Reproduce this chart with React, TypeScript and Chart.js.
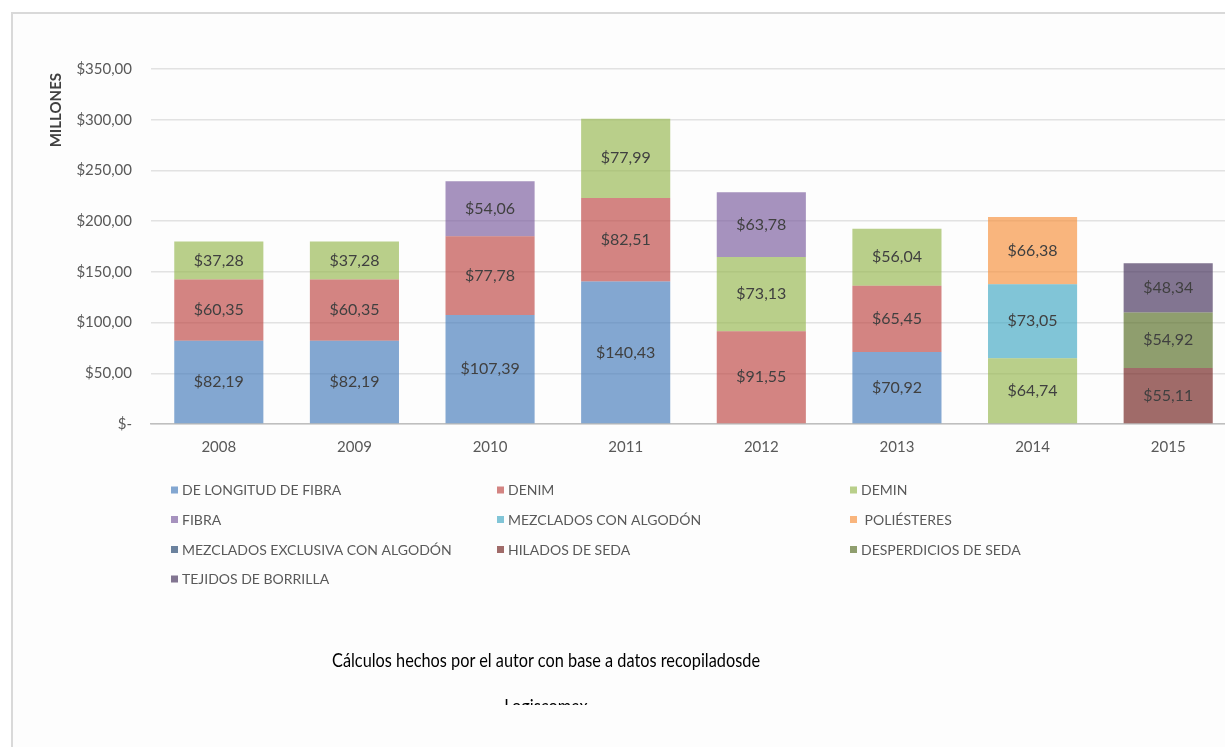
import React, { useEffect, useRef } from "react";
import { Chart, registerables } from "chart.js";

Chart.register(...registerables);

// ---------- DATA ----------
const years = ["2008", "2009", "2010", "2011", "2012", "2013", "2014", "2015"];

const seriesNames = [
  "DE LONGITUD DE FIBRA",
  "DENIM",
  "DEMIN",
  "FIBRA",
  "MEZCLADOS CON ALGODÓN",
  " POLIÉSTERES",
  "MEZCLADOS EXCLUSIVA CON ALGODÓN",
  "HILADOS DE SEDA",
  "DESPERDICIOS DE SEDA",
  "TEJIDOS DE BORRILLA",
];

const deLongitudDeFibra = [82.19, 82.19, 107.39, 140.43, null, 70.92, null, null];
const denim = [60.35, 60.35, 77.78, 82.51, 91.55, 65.45, null, null];
const demin = [37.28, 37.28, null, 77.99, 73.13, 56.04, 64.74, null];
const fibra = [null, null, 54.06, null, 63.78, null, null, null];
const mezcladosConAlgodon = [null, null, null, null, null, null, 73.05, null];
const poliesteres = [null, null, null, null, null, null, 66.38, null];
const mezcladosExclusiva = [null, null, null, null, null, null, null, null];
const hiladosDeSeda = [null, null, null, null, null, null, null, 55.11];
const desperdiciosDeSeda = [null, null, null, null, null, null, null, 54.92];
const tejidosDeBorrilla = [null, null, null, null, null, null, null, 48.34];

const seriesValues = [
  deLongitudDeFibra,
  denim,
  demin,
  fibra,
  mezcladosConAlgodon,
  poliesteres,
  mezcladosExclusiva,
  hiladosDeSeda,
  desperdiciosDeSeda,
  tejidosDeBorrilla,
];

const seriesColors = [
  "rgba(79,129,189,0.7)",
  "rgba(192,80,77,0.7)",
  "rgba(155,187,89,0.7)",
  "rgba(128,100,162,0.7)",
  "rgba(75,172,198,0.7)",
  "rgba(247,150,70,0.7)",
  "rgba(44,77,117,0.7)",
  "rgba(119,44,42,0.7)",
  "rgba(95,117,48,0.7)",
  "rgba(77,59,98,0.7)",
];

const yMax = 350;
const yStep = 50;
const yAxisTitle = "MILLONES";
const captionLines = ["Cálculos hechos por el autor con base a datos recopiladosde", "Logiscomex"];

// ---------- HELPERS ----------
const FONT = "Lato, 'Open Sans', sans-serif";
const fmtMoney = (v: number) => (v === 0 ? "$-" : "$" + v.toFixed(2).replace(".", ","));

const dataLabelPlugin = {
  id: "dataLabels",
  afterDatasetsDraw(chart: any) {
    const ctx = chart.ctx;
    ctx.save();
    ctx.font = `16px ${FONT}`;
    ctx.fillStyle = "#404040";
    ctx.textAlign = "center";
    ctx.textBaseline = "middle";
    chart.data.datasets.forEach((ds: any, i: number) => {
      const meta = chart.getDatasetMeta(i);
      meta.data.forEach((bar: any, j: number) => {
        const v = ds.data[j];
        if (v == null) return;
        const { x, y, base } = bar.getProps(["x", "y", "base"], true);
        ctx.fillText(fmtMoney(v), x, (y + base) / 2);
      });
    });
    ctx.restore();
  },
};

const axisTitlePlugin = {
  id: "axisTitle",
  afterDraw(chart: any) {
    const ctx = chart.ctx;
    ctx.save();
    ctx.font = `bold 15px ${FONT}`;
    ctx.fillStyle = "#404040";
    ctx.translate(56, chart.chartArea.top + 4);
    ctx.rotate(-Math.PI / 2);
    ctx.textAlign = "right";
    ctx.textBaseline = "middle";
    ctx.fillText(yAxisTitle, 0, 0);
    ctx.restore();
  },
};

const gridLegendPlugin = {
  id: "gridLegend",
  afterDraw(chart: any) {
    const ctx = chart.ctx;
    const colX = [171, 497, 850];
    const rowY = [490, 519.5, 549.5, 579];
    ctx.save();
    ctx.font = `14px ${FONT}`;
    ctx.textAlign = "left";
    ctx.textBaseline = "middle";
    chart.data.datasets.forEach((ds: any, i: number) => {
      const cx = colX[i % 3];
      const cy = rowY[Math.floor(i / 3)];
      ctx.fillStyle = ds.backgroundColor;
      ctx.fillRect(cx, cy - 3.5, 7, 7);
      ctx.fillStyle = "#595959";
      ctx.fillText(ds.label, cx + 11, cy + 0.5);
    });
    ctx.restore();
  },
};

export default function App() {
  const canvasRef = useRef<HTMLCanvasElement | null>(null);

  useEffect(() => {
    document.body.style.margin = "0";
    document.body.style.overflow = "hidden";
    Chart.defaults.font.family = FONT;
    const canvas = canvasRef.current;
    if (!canvas) return;
    const chart = new Chart(canvas, {
      type: "bar",
      data: {
        labels: years,
        datasets: seriesNames.map((name, i) => ({
          label: name,
          data: seriesValues[i],
          backgroundColor: seriesColors[i],
          borderWidth: 0,
          categoryPercentage: 1,
          barPercentage: 0.657,
        })),
      },
      options: {
        responsive: false,
        animation: false,
        maintainAspectRatio: false,
        layout: { padding: { top: 69, left: 0, right: 4, bottom: 277 } },
        plugins: {
          legend: { display: false },
          tooltip: { enabled: false },
          title: { display: false },
        },
        scales: {
          x: {
            stacked: true,
            grid: { display: false, drawTicks: false },
            border: { display: true, color: "#bfbfbf", width: 1.5 },
            ticks: { color: "#595959", font: { size: 15, family: FONT }, padding: 14 },
          },
          y: {
            stacked: true,
            min: 0,
            max: yMax,
            grid: { color: "#e2e2e2", lineWidth: 1.5, drawTicks: false },
            border: { display: false },
            afterFit: (scale: any) => {
              scale.width = 151;
            },
            ticks: {
              stepSize: yStep,
              color: "#595959",
              font: { size: 15, family: FONT },
              padding: 19,
              callback: (v: any) => fmtMoney(Number(v)),
            },
          },
        },
      },
      plugins: [dataLabelPlugin, axisTitlePlugin, gridLegendPlugin],
    } as any);
    return () => chart.destroy();
  }, []);

  return (
    <div style={{ position: "relative", width: 1225, height: 747, overflow: "hidden", background: "#ffffff" }}>
      <div
        style={{
          position: "absolute",
          left: 11,
          top: 12,
          width: 1300,
          height: 800,
          borderLeft: "2px solid #d9d9d9",
          borderTop: "2px solid #d9d9d9",
          background: "#fdfdfd",
        }}
      />
      <canvas
        ref={canvasRef}
        width={1240}
        height={747}
        style={{ position: "absolute", left: 0, top: 0, width: 1240, height: 747 }}
      />
      <div
        style={{
          position: "absolute",
          left: 146,
          width: 800,
          top: 636,
          height: 69,
          overflow: "hidden",
          textAlign: "center",
          fontFamily: FONT,
          fontSize: 20,
          lineHeight: "46px",
          color: "#000000",
        }}
      >
        {captionLines.map((l, i) => (
          <div key={i} style={{ whiteSpace: "nowrap", transform: "scaleX(0.815)", transformOrigin: "50% 50%" }}>
            {l}
          </div>
        ))}
      </div>
    </div>
  );
}
